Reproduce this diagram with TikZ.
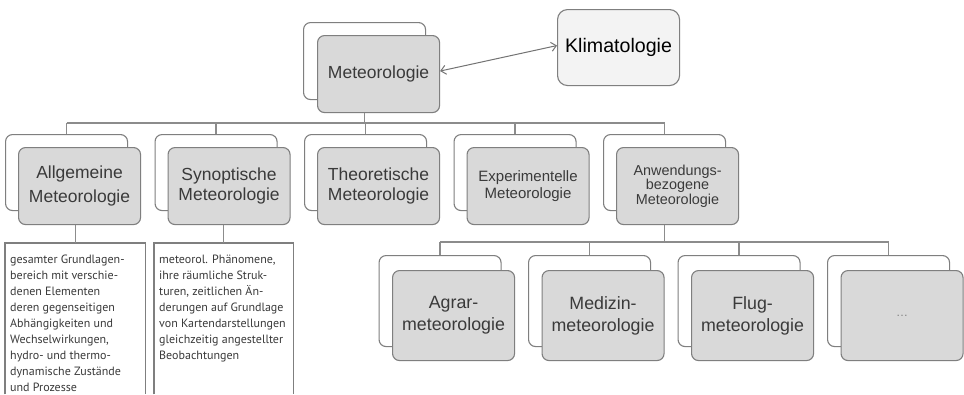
\documentclass[tikz,border=0pt]{standalone}
\usepackage{fontspec}
\setmainfont{Liberation Sans}
\newfontfamily\descfont{PT Sans}
\usetikzlibrary{arrows.meta}
\definecolor{linegray}{HTML}{8C8C8C}
\definecolor{bordergray}{HTML}{7F7F7F}
\definecolor{boxgray}{HTML}{D9D9D9}
\definecolor{klimafill}{HTML}{F3F3F3}
\definecolor{txtgray}{HTML}{3A3A3A}
\begin{document}
\begin{tikzpicture}[x=1pt,y=-1pt,
  >={Straight Barb[length=5pt,width=9pt]},
  backbox/.style={draw=bordergray, line width=1.1pt, fill=white, rounded corners=7pt, anchor=north west, minimum width=122pt, minimum height=77pt, inner sep=0pt},
  frontbox/.style={backbox, fill=boxgray, text=txtgray, align=center},
  lvltwo/.style={minimum height=76pt},
  lvlthree/.style={minimum height=90pt, font=\fontsize{17.8}{22}\selectfont},
  conn/.style={draw=linegray, line width=1.3pt},
  descbox/.style={anchor=north west, minimum height=151pt, inner sep=0pt},
  desctext/.style={anchor=north west, inner sep=0pt, align=left, text=txtgray, font=\descfont\fontsize{12}{16}\selectfont}
]
\useasboundingbox (0,0) rectangle (964,394);
\fill[white] (0,0) rectangle (964,394);

% top level
\node[backbox] (mb) at (303,22) {};
\node[frontbox, font=\fontsize{17.5}{22}\selectfont] (mf) at (317,35) {Meteorologie};
\node[backbox, fill=klimafill, rounded corners=10pt, minimum height=76pt, text=black, font=\fontsize{19.6}{24}\selectfont] (kl) at (557,9) {Klimatologie};

% level 2
\node[backbox, lvltwo] (b1) at (5,134) {};
\node[backbox, lvltwo] (b2) at (154.5,134) {};
\node[backbox, lvltwo] (b3) at (304,134) {};
\node[backbox, lvltwo] (b4) at (453.5,134) {};
\node[backbox, lvltwo] (b5) at (603,134) {};
\node[frontbox, font=\fontsize{17.5}{24}\selectfont] (f1) at (18,147) {Allgemeine\\Meteorologie};
\node[frontbox, font=\fontsize{17.5}{20}\selectfont] (f2) at (167.5,147) {Synoptische\\Meteorologie};
\node[frontbox, font=\fontsize{17.5}{20}\selectfont] (f3) at (317,147) {Theoretische\\Meteorologie};
\node[frontbox, font=\fontsize{15}{16.5}\selectfont] (f4) at (466.5,147) {Experimentelle\\Meteorologie};
\node[frontbox, font=\fontsize{14.4}{14.5}\selectfont] (f5) at (616,147) {Anwendungs-\\bezogene\\Meteorologie};

% level 3
\node[backbox, minimum height=91pt] (c1) at (378.5,255) {};
\node[backbox, minimum height=91pt] (c2) at (528,255) {};
\node[backbox, minimum height=91pt] (c3) at (677.5,255) {};
\node[backbox, minimum height=91pt] (c4) at (827,255) {};
\node[frontbox, lvlthree] (g1) at (392,270) {Agrar-\\meteorologie};
\node[frontbox, lvlthree] (g2) at (541.5,270) {Medizin-\\meteorologie};
\node[frontbox, lvlthree] (g3) at (691,270) {Flug-\\meteorologie};
\node[frontbox, lvlthree, text=gray, font=\fontsize{12}{14}\selectfont] (g4) at (840.5,270) {\dots};

% description boxes
\node[descbox, minimum width=140pt] (d1) at (5,243) {};
\node[descbox, minimum width=139pt] (d2) at (154,243) {};
\draw[draw=bordergray, line width=1.1pt] (d1.south west) |- (d1.north east) -- (d1.south east);
\draw[draw=bordergray, line width=1.1pt] (d2.south west) |- (d2.north east) -- (d2.south east);
\node[desctext] (t1) at (10,255) {gesamter Grundlagen-\\bereich mit verschie-\\denen Elementen\\deren gegenseitigen\\Abhängigkeiten und\\Wechselwirkungen,\\hydro- und thermo-\\dynamische Zustände\\und Prozesse};
\node[desctext] (t2) at (159,255) {meteorol. Phänomene,\\ihre räumliche Struk-\\turen, zeitlichen Än-\\derungen auf Grundlage\\von Kartendarstellungen\\gleichzeitig angestellter\\Beobachtungen};

% connectors level 1 -> 2
\coordinate (bus1) at (0,123);
\draw[conn] (mb.center |- mf.south) -- (mb.center |- bus1);
\draw[conn] (b1.north |- bus1) -- (b5.north |- bus1);
\foreach \i in {1,...,5} \draw[conn] (b\i.north |- bus1) -- (b\i.north);

% connectors level 2 -> 3
\coordinate (bus2) at (0,242);
\draw[conn] (b5.center |- f5.south) -- (b5.center |- bus2);
\draw[conn] (c1.north |- bus2) -- (c4.north |- bus2);
\foreach \i in {1,...,4} \draw[conn] (c\i.north |- bus2) -- (c\i.north);

% description connectors
\draw[conn] (d1.north |- f1.south) -- (d1.north);
\draw[conn] (d2.north |- f2.south) -- (d2.north);

% arrow
\draw[draw=gray!90!black, line width=1pt, <->] ([yshift=3pt]mf.east) -- ([yshift=2pt]kl.west);
\end{tikzpicture}
\end{document}
